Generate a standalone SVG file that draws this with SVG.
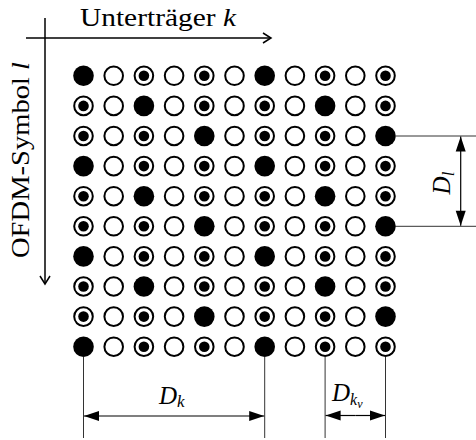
<svg xmlns="http://www.w3.org/2000/svg" xmlns:xlink="http://www.w3.org/1999/xlink" width="476" height="440" viewBox="0 0 476 440">
<style>
text{font-family:"Liberation Serif","Times New Roman",serif;fill:#000}
.it{font-style:italic}
.o{fill:#fff;stroke:#000;stroke-width:2}
.ax{stroke:#000;stroke-width:1.5;fill:none}
.dim{stroke:#000;stroke-width:1.2;fill:none}
.ext{stroke:#333;stroke-width:1;fill:none}
</style>
<defs>
<circle id="F" r="10.3" fill="#000"/>
<circle id="O" r="9.3" class="o"/>
<g id="R"><circle r="9.3" class="o"/><circle r="5.3" fill="#000"/></g>
<marker id="open" markerWidth="12" markerHeight="12" viewBox="-10 -6 12 12" refX="0" refY="0" orient="auto" markerUnits="userSpaceOnUse"><path d="M-8,-5 L0,0 L-8,5" fill="none" stroke="#000" stroke-width="1.5"/></marker>
<marker id="solid" markerWidth="18" markerHeight="12" viewBox="-16 -6 18 12" refX="0" refY="0" orient="auto" markerUnits="userSpaceOnUse"><path d="M-15,-5 L0,0 L-15,5 Z" fill="#000"/></marker>
</defs>

<g id="title-k"><text x="80" y="26" font-size="25" textLength="156" lengthAdjust="spacingAndGlyphs">Unterträger <tspan class="it">k</tspan></text></g>
<g id="title-l"><text x="29" y="258" font-size="25" textLength="196" lengthAdjust="spacingAndGlyphs" transform="rotate(-90 29 258)">OFDM-Symbol <tspan class="it">l</tspan></text></g>

<g id="connectors">
<line class="ax" x1="26" y1="38" x2="271" y2="38" marker-end="url(#open)"/>
<line class="ax" x1="45" y1="18" x2="45" y2="284" marker-end="url(#open)"/>
<line class="ext" x1="396" y1="136" x2="476" y2="136"/>
<line class="ext" x1="396" y1="226.3" x2="476" y2="226.3"/>
<line class="dim" x1="460.7" y1="181" x2="460.7" y2="136.5" marker-end="url(#solid)"/>
<line class="dim" x1="460.7" y1="181" x2="460.7" y2="225.8" marker-end="url(#solid)"/>
<line class="ext" x1="83.5" y1="357" x2="83.5" y2="438"/>
<line class="ext" x1="264.7" y1="357" x2="264.7" y2="438"/>
<line class="ext" x1="325.1" y1="357" x2="325.1" y2="438"/>
<line class="ext" x1="385.5" y1="357" x2="385.5" y2="438"/>
<line class="dim" x1="174" y1="416" x2="84" y2="416" marker-end="url(#solid)"/>
<line class="dim" x1="174" y1="416" x2="264.2" y2="416" marker-end="url(#solid)"/>
<line class="dim" x1="355.3" y1="415.5" x2="325.6" y2="415.5" marker-end="url(#solid)"/>
<line class="dim" x1="355.3" y1="415.5" x2="385" y2="415.5" marker-end="url(#solid)"/>
</g>

<g id="label-Dl"><text x="450" y="183" font-size="25" text-anchor="middle" transform="rotate(-90 450 183)" class="it">D<tspan font-size="17" dy="4">l</tspan></text></g>
<g id="label-Dk"><text x="159" y="404" font-size="25" class="it">D<tspan font-size="17" dy="3">k</tspan></text></g>
<g id="label-Dkv"><text x="332" y="401" font-size="25" class="it">D<tspan font-size="16" dy="4">k</tspan><tspan font-size="12" dy="3">ν</tspan></text></g>

<g id="nodes">
<g id="n0-0"><use xlink:href="#F" x="83.5" y="75.8"/></g><g id="n0-1"><use xlink:href="#O" x="113.7" y="75.8"/></g><g id="n0-2"><use xlink:href="#R" x="143.9" y="75.8"/></g><g id="n0-3"><use xlink:href="#O" x="174.1" y="75.8"/></g><g id="n0-4"><use xlink:href="#R" x="204.3" y="75.8"/></g><g id="n0-5"><use xlink:href="#O" x="234.5" y="75.8"/></g><g id="n0-6"><use xlink:href="#F" x="264.7" y="75.8"/></g><g id="n0-7"><use xlink:href="#O" x="294.9" y="75.8"/></g><g id="n0-8"><use xlink:href="#R" x="325.1" y="75.8"/></g><g id="n0-9"><use xlink:href="#O" x="355.3" y="75.8"/></g><g id="n0-10"><use xlink:href="#R" x="385.5" y="75.8"/></g>
<g id="n1-0"><use xlink:href="#R" x="83.5" y="105.9"/></g><g id="n1-1"><use xlink:href="#O" x="113.7" y="105.9"/></g><g id="n1-2"><use xlink:href="#F" x="143.9" y="105.9"/></g><g id="n1-3"><use xlink:href="#O" x="174.1" y="105.9"/></g><g id="n1-4"><use xlink:href="#R" x="204.3" y="105.9"/></g><g id="n1-5"><use xlink:href="#O" x="234.5" y="105.9"/></g><g id="n1-6"><use xlink:href="#R" x="264.7" y="105.9"/></g><g id="n1-7"><use xlink:href="#O" x="294.9" y="105.9"/></g><g id="n1-8"><use xlink:href="#F" x="325.1" y="105.9"/></g><g id="n1-9"><use xlink:href="#O" x="355.3" y="105.9"/></g><g id="n1-10"><use xlink:href="#R" x="385.5" y="105.9"/></g>
<g id="n2-0"><use xlink:href="#R" x="83.5" y="136"/></g><g id="n2-1"><use xlink:href="#O" x="113.7" y="136"/></g><g id="n2-2"><use xlink:href="#R" x="143.9" y="136"/></g><g id="n2-3"><use xlink:href="#O" x="174.1" y="136"/></g><g id="n2-4"><use xlink:href="#F" x="204.3" y="136"/></g><g id="n2-5"><use xlink:href="#O" x="234.5" y="136"/></g><g id="n2-6"><use xlink:href="#R" x="264.7" y="136"/></g><g id="n2-7"><use xlink:href="#O" x="294.9" y="136"/></g><g id="n2-8"><use xlink:href="#R" x="325.1" y="136"/></g><g id="n2-9"><use xlink:href="#O" x="355.3" y="136"/></g><g id="n2-10"><use xlink:href="#F" x="385.5" y="136"/></g>
<g id="n3-0"><use xlink:href="#F" x="83.5" y="166.1"/></g><g id="n3-1"><use xlink:href="#O" x="113.7" y="166.1"/></g><g id="n3-2"><use xlink:href="#R" x="143.9" y="166.1"/></g><g id="n3-3"><use xlink:href="#O" x="174.1" y="166.1"/></g><g id="n3-4"><use xlink:href="#R" x="204.3" y="166.1"/></g><g id="n3-5"><use xlink:href="#O" x="234.5" y="166.1"/></g><g id="n3-6"><use xlink:href="#F" x="264.7" y="166.1"/></g><g id="n3-7"><use xlink:href="#O" x="294.9" y="166.1"/></g><g id="n3-8"><use xlink:href="#R" x="325.1" y="166.1"/></g><g id="n3-9"><use xlink:href="#O" x="355.3" y="166.1"/></g><g id="n3-10"><use xlink:href="#R" x="385.5" y="166.1"/></g>
<g id="n4-0"><use xlink:href="#R" x="83.5" y="196.2"/></g><g id="n4-1"><use xlink:href="#O" x="113.7" y="196.2"/></g><g id="n4-2"><use xlink:href="#F" x="143.9" y="196.2"/></g><g id="n4-3"><use xlink:href="#O" x="174.1" y="196.2"/></g><g id="n4-4"><use xlink:href="#R" x="204.3" y="196.2"/></g><g id="n4-5"><use xlink:href="#O" x="234.5" y="196.2"/></g><g id="n4-6"><use xlink:href="#R" x="264.7" y="196.2"/></g><g id="n4-7"><use xlink:href="#O" x="294.9" y="196.2"/></g><g id="n4-8"><use xlink:href="#F" x="325.1" y="196.2"/></g><g id="n4-9"><use xlink:href="#O" x="355.3" y="196.2"/></g><g id="n4-10"><use xlink:href="#R" x="385.5" y="196.2"/></g>
<g id="n5-0"><use xlink:href="#R" x="83.5" y="226.3"/></g><g id="n5-1"><use xlink:href="#O" x="113.7" y="226.3"/></g><g id="n5-2"><use xlink:href="#R" x="143.9" y="226.3"/></g><g id="n5-3"><use xlink:href="#O" x="174.1" y="226.3"/></g><g id="n5-4"><use xlink:href="#F" x="204.3" y="226.3"/></g><g id="n5-5"><use xlink:href="#O" x="234.5" y="226.3"/></g><g id="n5-6"><use xlink:href="#R" x="264.7" y="226.3"/></g><g id="n5-7"><use xlink:href="#O" x="294.9" y="226.3"/></g><g id="n5-8"><use xlink:href="#R" x="325.1" y="226.3"/></g><g id="n5-9"><use xlink:href="#O" x="355.3" y="226.3"/></g><g id="n5-10"><use xlink:href="#F" x="385.5" y="226.3"/></g>
<g id="n6-0"><use xlink:href="#F" x="83.5" y="256.4"/></g><g id="n6-1"><use xlink:href="#O" x="113.7" y="256.4"/></g><g id="n6-2"><use xlink:href="#R" x="143.9" y="256.4"/></g><g id="n6-3"><use xlink:href="#O" x="174.1" y="256.4"/></g><g id="n6-4"><use xlink:href="#R" x="204.3" y="256.4"/></g><g id="n6-5"><use xlink:href="#O" x="234.5" y="256.4"/></g><g id="n6-6"><use xlink:href="#F" x="264.7" y="256.4"/></g><g id="n6-7"><use xlink:href="#O" x="294.9" y="256.4"/></g><g id="n6-8"><use xlink:href="#R" x="325.1" y="256.4"/></g><g id="n6-9"><use xlink:href="#O" x="355.3" y="256.4"/></g><g id="n6-10"><use xlink:href="#R" x="385.5" y="256.4"/></g>
<g id="n7-0"><use xlink:href="#R" x="83.5" y="286.5"/></g><g id="n7-1"><use xlink:href="#O" x="113.7" y="286.5"/></g><g id="n7-2"><use xlink:href="#F" x="143.9" y="286.5"/></g><g id="n7-3"><use xlink:href="#O" x="174.1" y="286.5"/></g><g id="n7-4"><use xlink:href="#R" x="204.3" y="286.5"/></g><g id="n7-5"><use xlink:href="#O" x="234.5" y="286.5"/></g><g id="n7-6"><use xlink:href="#R" x="264.7" y="286.5"/></g><g id="n7-7"><use xlink:href="#O" x="294.9" y="286.5"/></g><g id="n7-8"><use xlink:href="#F" x="325.1" y="286.5"/></g><g id="n7-9"><use xlink:href="#O" x="355.3" y="286.5"/></g><g id="n7-10"><use xlink:href="#R" x="385.5" y="286.5"/></g>
<g id="n8-0"><use xlink:href="#R" x="83.5" y="316.6"/></g><g id="n8-1"><use xlink:href="#O" x="113.7" y="316.6"/></g><g id="n8-2"><use xlink:href="#R" x="143.9" y="316.6"/></g><g id="n8-3"><use xlink:href="#O" x="174.1" y="316.6"/></g><g id="n8-4"><use xlink:href="#F" x="204.3" y="316.6"/></g><g id="n8-5"><use xlink:href="#O" x="234.5" y="316.6"/></g><g id="n8-6"><use xlink:href="#R" x="264.7" y="316.6"/></g><g id="n8-7"><use xlink:href="#O" x="294.9" y="316.6"/></g><g id="n8-8"><use xlink:href="#R" x="325.1" y="316.6"/></g><g id="n8-9"><use xlink:href="#O" x="355.3" y="316.6"/></g><g id="n8-10"><use xlink:href="#F" x="385.5" y="316.6"/></g>
<g id="n9-0"><use xlink:href="#F" x="83.5" y="346.7"/></g><g id="n9-1"><use xlink:href="#O" x="113.7" y="346.7"/></g><g id="n9-2"><use xlink:href="#R" x="143.9" y="346.7"/></g><g id="n9-3"><use xlink:href="#O" x="174.1" y="346.7"/></g><g id="n9-4"><use xlink:href="#R" x="204.3" y="346.7"/></g><g id="n9-5"><use xlink:href="#O" x="234.5" y="346.7"/></g><g id="n9-6"><use xlink:href="#F" x="264.7" y="346.7"/></g><g id="n9-7"><use xlink:href="#O" x="294.9" y="346.7"/></g><g id="n9-8"><use xlink:href="#R" x="325.1" y="346.7"/></g><g id="n9-9"><use xlink:href="#O" x="355.3" y="346.7"/></g><g id="n9-10"><use xlink:href="#R" x="385.5" y="346.7"/></g>
</g>
</svg>
